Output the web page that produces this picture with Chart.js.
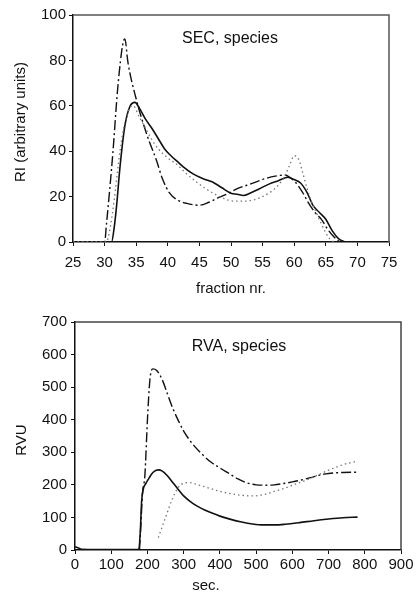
<!DOCTYPE html>
<html>
<head>
<meta charset="utf-8">
<script src="https://cdn.jsdelivr.net/npm/chart.js@4"></script>
<style>
  body { margin: 0; background: #fff; width: 417px; height: 604px; overflow: hidden; position: relative; }
  canvas { position: absolute; left: 0; }
  #sec { top: 0; }
  #rva { top: 300px; }
</style>
</head>
<body>
<canvas id="sec" width="417" height="300"></canvas>
<canvas id="rva" width="417" height="304"></canvas>
<script>
// SEC, species (fraction nr. vs RI)
const secSolidX = [25, 31.1, 31.5, 31.9, 32.4, 33.2, 34, 34.8, 35.5, 36.5, 37.5, 38.5, 39.5, 40.5, 41.5, 42.5, 44, 45.5, 47, 48.5, 50, 51, 52, 53, 54.5, 56, 57.5, 59, 60, 61, 62, 63, 64, 65, 66, 67, 68];
const secSolidY = [0, 0, 6, 16, 32, 51, 59.7, 61.5, 59, 54, 50, 45.5, 41, 38, 35.5, 33, 30, 28, 26.5, 24, 21.5, 21, 20.5, 21.5, 23.5, 25.5, 27, 28.5, 27.5, 26, 22, 16, 13, 10, 5, 1.5, 0];

const secDashX = [25, 30, 30.3, 31.3, 32.1, 32.9, 33.2, 33.7, 35, 36.6, 38.2, 39.2, 40.3, 41.4, 43, 45, 46.5, 48, 49.8, 51, 52.5, 54, 55.5, 57, 58.5, 59.3, 60.3, 61.3, 62.3, 63.3, 64.3, 65.2, 66.2, 67.2];
const secDashY = [0, 0, 8, 39, 68.5, 87.5, 89.5, 79, 63, 48, 36, 27.5, 21.5, 18.7, 17, 16.2, 17.5, 19.5, 21.7, 23.5, 25, 26.5, 28, 29, 29.5, 28.5, 26, 22, 17, 13, 10, 6, 2.5, 0];

const secDotX = [25, 30.3, 30.8, 31.5, 32.2, 33, 33.8, 34.5, 35.5, 36.5, 37.5, 38.5, 40, 41.5, 43, 44.5, 46, 47.5, 49, 50.5, 52, 53.5, 55, 56.5, 57.5, 58.5, 59.3, 60, 60.7, 61.4, 62, 62.7, 63.5, 64.3, 65, 65.6, 66.2];
const secDotY = [0, 0, 5, 18, 35, 50, 58, 60, 55, 50, 45, 41, 37, 34, 30, 26.5, 23.5, 21, 19, 18, 18, 18.5, 20, 22.5, 25, 29, 34, 38, 36.5, 30, 24, 18, 13, 8, 4, 1.5, 0];

// RVA, species (sec. vs RVU)
const rvaSolidX = [0, 8, 20, 100, 176, 180, 184, 188, 195, 205, 215, 230, 240, 255, 270, 285, 300, 325, 350, 375, 400, 430, 460, 490, 520, 550, 580, 620, 660, 700, 740, 780];
const rvaSolidY = [10, 7, 2, 1, 1, 50, 150, 185, 203, 222, 238, 246, 243, 228, 207, 186, 166, 143, 127, 115, 104, 94, 86, 80, 77, 77, 79, 84, 90, 95, 99, 101];

const rvaDashX = [178, 182, 186, 193, 200, 207, 215, 225, 240, 255, 270, 285, 300, 325, 350, 375, 400, 425, 450, 475, 500, 525, 550, 575, 600, 625, 650, 675, 700, 740, 780];
const rvaDashY = [0, 80, 170, 230, 400, 525, 556, 552, 525, 480, 435, 398, 365, 325, 295, 270, 252, 235, 218, 206, 200, 199, 200, 204, 209, 215, 222, 230, 235, 238, 239];

const rvaDotX = [230, 250, 270, 285, 300, 315, 340, 370, 400, 430, 460, 490, 520, 550, 580, 610, 640, 670, 700, 740, 780];
const rvaDotY = [38, 100, 160, 192, 205, 207, 200, 190, 180, 173, 168, 166, 170, 180, 190, 203, 215, 230, 245, 262, 273];

const FONT = '"Liberation Sans", Arial, sans-serif';

function pts(xs, ys) {
    return xs.map((x, i) => ({ x: x, y: ys[i] }));
}

function series(xs, ys, style) {
    const base = {
        data: pts(xs, ys),
        pointRadius: 0,
        fill: false,
        cubicInterpolationMode: 'monotone',
        borderColor: '#111'
    };
    if (style === 'solid') {
        base.borderWidth = 1.6;
    } else if (style === 'dash') {
        base.borderWidth = 1.4;
        base.borderDash = [10, 3, 2, 3];
    } else {
        base.borderWidth = 1.3;
        base.borderColor = '#777';
        base.borderDash = [1.5, 3];
    }
    return base;
}

// frame, inner title and axis titles
const decor = {
    id: 'decor',
    afterDraw(chart, args, o) {
        const { ctx, chartArea: a } = chart;
        ctx.save();
        ctx.strokeStyle = o.frameColor;
        ctx.lineWidth = 1.5;
        ctx.beginPath();
        ctx.moveTo(a.left, a.top);
        ctx.lineTo(a.right, a.top);
        ctx.lineTo(a.right, a.bottom);
        ctx.stroke();

        ctx.fillStyle = '#111';
        ctx.textAlign = 'center';
        ctx.textBaseline = 'middle';
        ctx.font = '16px ' + FONT;
        ctx.fillText(o.title, o.titleX, o.titleY);
        ctx.font = '15px ' + FONT;
        ctx.fillText(o.xTitle, o.xTitleX, o.xTitleY);
        ctx.translate(o.yTitleX, o.yTitleY);
        ctx.rotate(-Math.PI / 2);
        ctx.fillText(o.yTitle, 0, 0);
        ctx.restore();
    }
};

function makeChart(id, sets, cfg) {
    new Chart(document.getElementById(id), {
        type: 'line',
        data: { datasets: sets },
        plugins: [decor],
        options: {
            responsive: false,
            animation: false,
            layout: { padding: { top: cfg.padTop, right: cfg.padRight, left: 0, bottom: 0 } },
            plugins: {
                legend: { display: false },
                tooltip: { enabled: false },
                decor: cfg.decor
            },
            scales: {
                x: {
                    type: 'linear',
                    min: cfg.xMin, max: cfg.xMax,
                    afterFit: s => { s.height = cfg.xAxisH; },
                    border: { display: true, color: '#111', width: 1.5 },
                    grid: { drawOnChartArea: false, tickLength: 4, color: '#111' },
                    ticks: { stepSize: cfg.xStep, color: '#111', padding: cfg.xPad, font: { family: FONT, size: 15 }, maxRotation: 0 }
                },
                y: {
                    min: cfg.yMin, max: cfg.yMax,
                    afterFit: s => { s.width = cfg.yAxisW; },
                    border: { display: true, color: '#111', width: 1.5 },
                    grid: { drawOnChartArea: false, tickLength: 4, color: '#111' },
                    ticks: { stepSize: cfg.yStep, color: '#111', padding: cfg.yPad, font: { family: FONT, size: 15 } }
                }
            }
        }
    });
}

makeChart('sec', [
    series(secDotX, secDotY, 'dot'),
    series(secDashX, secDashY, 'dash'),
    series(secSolidX, secSolidY, 'solid')
], {
    padTop: 15, padRight: 28, xAxisH: 58, yAxisW: 73,
    xMin: 25, xMax: 75, xStep: 5, yMin: 0, yMax: 100, yStep: 20,
    xPad: 8, yPad: 3,
    decor: {
        frameColor: '#555',
        title: 'SEC, species', titleX: 230, titleY: 39,
        xTitle: 'fraction nr.', xTitleX: 231, xTitleY: 289,
        yTitle: 'RI (arbitrary units)', yTitleX: 21, yTitleY: 122
    }
});

makeChart('rva', [
    series(rvaDotX, rvaDotY, 'dot'),
    series(rvaDashX, rvaDashY, 'dash'),
    series(rvaSolidX, rvaSolidY, 'solid')
], {
    padTop: 22, padRight: 16, xAxisH: 54, yAxisW: 75,
    xMin: 0, xMax: 900, xStep: 100, yMin: 0, yMax: 700, yStep: 100,
    xPad: 2, yPad: 4,
    decor: {
        frameColor: '#444',
        title: 'RVA, species', titleX: 239, titleY: 47,
        xTitle: 'sec.', xTitleX: 206, xTitleY: 286,
        yTitle: 'RVU', yTitleX: 22, yTitleY: 140
    }
});
</script>
</body>
</html>
